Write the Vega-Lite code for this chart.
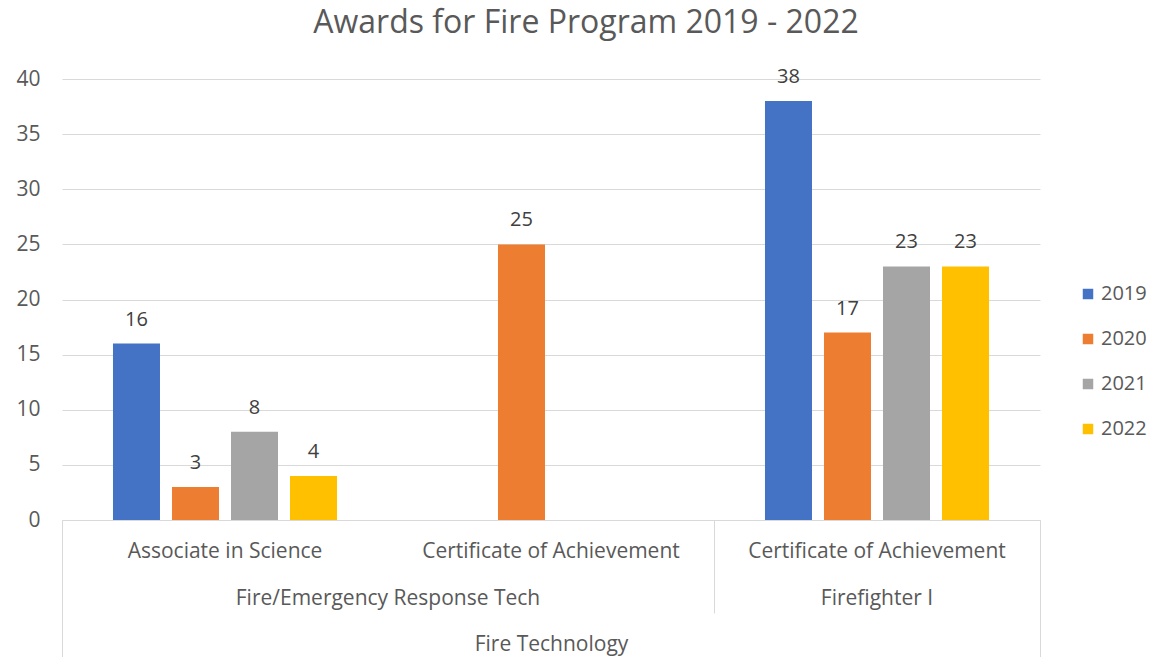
{
  "$schema": "https://vega.github.io/schema/vega-lite/v6.json",
  "autosize": "none",
  "width": 978,
  "height": 441,
  "padding": {"left": 62, "top": 79, "right": 110, "bottom": 137},
  "background": "white",
  "config": {
    "font": "Open Sans",
    "view": {"stroke": null},
    "axis": {"labelFont": "Open Sans", "titleFont": "Open Sans", "labelLimit": 0},
    "legend": {"labelFont": "Open Sans", "labelLimit": 0}
  },
  "title": {
    "text": "Awards for Fire Program 2019 - 2022",
    "font": "Open Sans",
    "fontSize": 32,
    "fontWeight": "normal",
    "color": "#595959",
    "anchor": "middle",
    "frame": "group",
    "dx": 35,
    "offset": 27
  },
  "data": {
    "values": [
      {"category": "Fire/Emergency Response Tech|Associate in Science", "year": "2019", "count": 16},
      {"category": "Fire/Emergency Response Tech|Associate in Science", "year": "2020", "count": 3},
      {"category": "Fire/Emergency Response Tech|Associate in Science", "year": "2021", "count": 8},
      {"category": "Fire/Emergency Response Tech|Associate in Science", "year": "2022", "count": 4},
      {"category": "Fire/Emergency Response Tech|Certificate of Achievement", "year": "2020", "count": 25},
      {"category": "Firefighter I|Certificate of Achievement", "year": "2019", "count": 38},
      {"category": "Firefighter I|Certificate of Achievement", "year": "2020", "count": 17},
      {"category": "Firefighter I|Certificate of Achievement", "year": "2021", "count": 23},
      {"category": "Firefighter I|Certificate of Achievement", "year": "2022", "count": 23}
    ]
  },
  "encoding": {
    "x": {
      "field": "category",
      "type": "nominal",
      "sort": null,
      "scale": {
        "domain": [
          "Fire/Emergency Response Tech|Associate in Science",
          "Fire/Emergency Response Tech|Certificate of Achievement",
          "Firefighter I|Certificate of Achievement"
        ],
        "paddingInner": 0,
        "paddingOuter": 0
      }
    },
    "xOffset": {
      "field": "year",
      "type": "nominal",
      "scale": {"domain": ["2019", "2020", "2021", "2022"], "paddingInner": 0.2034, "paddingOuter": 0.864}
    },
    "y": {
      "field": "count",
      "type": "quantitative",
      "scale": {"domain": [0, 40], "nice": false},
      "axis": {
        "title": null,
        "values": [0, 5, 10, 15, 20, 25, 30, 35, 40],
        "grid": true,
        "gridColor": "#d9d9d9",
        "gridWidth": 1,
        "domain": false,
        "ticks": false,
        "labelPadding": 22,
        "labelFontSize": 21,
        "labelColor": "#595959"
      }
    }
  },
  "layer": [
    {
      "mark": {"type": "bar"},
      "encoding": {
        "x": {
          "field": "category",
          "type": "nominal",
          "sort": null,
          "axis": {
            "orient": "bottom",
            "labelExpr": "split(datum.value, '|')[1]",
            "labelAngle": 0,
            "labelFontSize": 21,
            "labelColor": "#595959",
            "labelBaseline": "middle",
            "labelPadding": {"condition": {"test": "datum.value == 'Fire/Emergency Response Tech|Associate in Science'", "value": -106}, "value": 31},
            "domain": true,
            "domainColor": "#d9d9d9",
            "domainWidth": 1,
            "ticks": true,
            "bandPosition": 0,
            "tickColor": "#d9d9d9",
            "tickWidth": 1,
            "tickSize": {"condition": {"test": "datum.value == 'Fire/Emergency Response Tech|Associate in Science'", "value": 137}, "value": 0},
            "title": "Fire Technology",
            "titleFontSize": 21,
            "titleFontWeight": "normal",
            "titleColor": "#595959",
            "titleY": 124,
            "titleBaseline": "middle"
          }
        },
        "color": {
          "field": "year",
          "type": "nominal",
          "scale": {"domain": ["2019", "2020", "2021", "2022"], "range": ["#4472C4", "#ED7D31", "#A5A5A5", "#FFC000"]},
          "legend": {
            "title": null,
            "orient": "none",
            "legendX": 1016,
            "legendY": 205,
            "padding": 0,
            "symbolType": "square",
            "symbolSize": 110,
            "symbolStrokeWidth": 0,
            "labelFontSize": 20,
            "labelColor": "#595959",
            "labelOffset": 3,
            "rowPadding": 25
          }
        }
      }
    },
    {
      "mark": {"type": "text", "baseline": "middle", "dy": -24, "fontSize": 20, "color": "#404040", "font": "Open Sans"},
      "encoding": {
        "x": {
          "field": "category",
          "type": "nominal",
          "sort": null,
          "axis": {
            "orient": "bottom",
            "labelExpr": "datum.value == 'Fire/Emergency Response Tech|Certificate of Achievement' ? '' : split(datum.value, '|')[0]",
            "labelAngle": 0,
            "labelFontSize": 21,
            "labelColor": "#595959",
            "labelBaseline": "middle",
            "labelOffset": {"condition": {"test": "datum.value == 'Fire/Emergency Response Tech|Associate in Science'", "value": 163}, "value": 0},
            "labelPadding": {"condition": {"test": "datum.value == 'Firefighter I|Certificate of Achievement'", "value": -59}, "value": 78},
            "domain": false,
            "ticks": true,
            "bandPosition": 1,
            "tickColor": "#d9d9d9",
            "tickWidth": 1,
            "tickSize": {"condition": [
              {"test": "datum.value == 'Fire/Emergency Response Tech|Certificate of Achievement'", "value": 93},
              {"test": "datum.value == 'Firefighter I|Certificate of Achievement'", "value": 137}
            ], "value": 0},
            "title": null
          }
        },
        "text": {"field": "count", "type": "quantitative"}
      }
    }
  ],
  "resolve": {"axis": {"x": "independent"}}
}
